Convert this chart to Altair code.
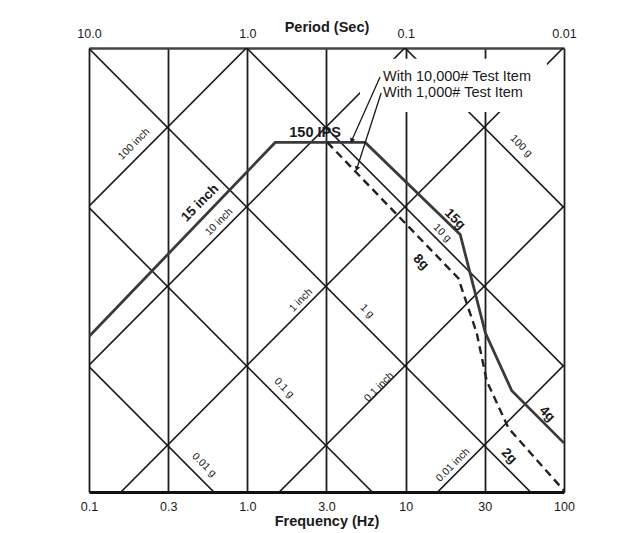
import math
import altair as alt
import pandas as pd

# ---- axis ticks ----
freq_ticks = [0.1, 0.3162, 1.0, 3.162, 10.0, 31.62, 100.0]
freq_tick_labels = ["0.1", "0.3", "1.0", "3.0", "10", "30", "100"]
period_ticks = [0.1, 1.0, 10.0, 100.0]
period_tick_labels = ["10.0", "1.0", "0.1", "0.01"]
vel_ticks = [1, 10, 100]
vel_tick_labels = ["1", "10", "100"]

# ---- tripartite grid values ----
disp_inch = [0.01, 0.1, 1, 10, 100]
accel_g = [0.01, 0.1, 1, 10, 100]
G_IN = 386.1

# ---- spectra ----
solid_f = [0.1, 1.50, 5.55, 22.1, 31.9, 46.8, 100]
solid_v = [9.5, 158, 158, 41.7, 10.0, 4.33, 2.03]
dashed_f = [3.2, 21.5, 28.1, 32.5, 44.6, 100]
dashed_v = [158, 22.1, 10.0, 5.0, 2.52, 1.02]

# ---- labels ----
disp_lab_text = ["100 inch", "10 inch", "1 inch", "0.1 inch", "0.01 inch"]
disp_lab_f = [0.1925, 0.663, 2.18, 6.79, 19.9]
disp_lab_v = [154.4, 49.9, 16.1, 4.57, 1.479]
acc_lab_text = ["100 g", "10 g", "1 g", "0.1 g", "0.01 g"]
acc_lab_f = [53.6, 17.0, 5.70, 1.705, 0.533]
acc_lab_v = [150, 42.6, 13.75, 4.51, 1.479]
curve_up_text = ["15 inch"]
curve_up_f = [0.5027]
curve_up_v = [65.7]
curve_dn_text = ["15g", "8g", "4g", "2g"]
curve_dn_f = [20.5, 12.5, 78.2, 45.0]
curve_dn_v = [52.1, 27.96, 3.10, 1.684]
ips_text = ["150 IPS"]
ips_f = [2.677]
ips_v = [181]
note_text = ["With 10,000# Test Item", "With 1,000# Test Item"]
note_f = [7.19, 7.19]
note_v = [407.6, 323]
arrow_f0 = [6.89, 7.0]
arrow_v0 = [407, 323]
arrow_f1 = [4.58, 4.93]
arrow_v1 = [163.7, 109]
arrow_angle = [204, 198]
box_f = [5.15, 78]
box_v = [245, 530]

# ---- build tables ----
rows = []
for d in disp_inch:
    for f in (0.1, 100.0):
        rows.append({"id": f"d{d}", "f": f, "v": 2 * math.pi * f * d})
for a in accel_g:
    for f in (0.1, 100.0):
        rows.append({"id": f"a{a}", "f": f, "v": G_IN * a / (2 * math.pi * f)})
diag_df = pd.DataFrame(rows)

solid_df = pd.DataFrame({"f": solid_f, "v": solid_v})
dashed_df = pd.DataFrame({"f": dashed_f, "v": dashed_v})
arrow_rows = []
for i in range(len(arrow_f0)):
    arrow_rows.append({"id": i, "o": 0, "f": arrow_f0[i], "v": arrow_v0[i]})
    arrow_rows.append({"id": i, "o": 1, "f": arrow_f1[i], "v": arrow_v1[i]})
arrow_df = pd.DataFrame(arrow_rows)
head_df = pd.DataFrame({"f": arrow_f1, "v": arrow_v1, "ang": arrow_angle})
box_df = pd.DataFrame({"f": [box_f[0]], "f2": [box_f[1]], "v": [box_v[0]], "v2": [box_v[1]]})
top_df = pd.DataFrame({"f": period_ticks, "v": [1] * len(period_ticks)})


def label_expr(ticks, labels):
    expr = f"'{labels[-1]}'"
    for i in range(len(ticks) - 2, -1, -1):
        mid = math.sqrt(ticks[i] * ticks[i + 1])
        expr = f"datum.value < {mid} ? '{labels[i]}' : ({expr})"
    return expr


FONT = "Liberation Sans"
INK = "#1a1a1a"
xs = alt.Scale(type="log", domain=[0.1, 100], nice=False)
ys = alt.Scale(type="log", domain=[1, 620], nice=False)

x_bottom = alt.Axis(
    orient="bottom", values=freq_ticks, labelExpr=label_expr(freq_ticks, freq_tick_labels),
    title="Frequency (Hz)", grid=True, gridColor="#1e1e1e", gridWidth=1.8, ticks=False,
    domainColor="#111", domainWidth=3, labelFontSize=12.5, labelPadding=8, labelColor=INK,
    labelOverlap=False, labelFlush=False, titleFontSize=14.5, titleFontWeight="bold",
    titleColor=INK, titleY=29, titleBaseline="middle", labelFont=FONT, titleFont=FONT,
)
x_top = alt.Axis(
    orient="top", values=period_ticks, labelExpr=label_expr(period_ticks, period_tick_labels),
    title="Period (Sec)", grid=False, ticks=False, domainColor="#444", domainWidth=2.5,
    labelFontSize=12.5, labelPadding=8, labelColor=INK, labelOverlap=False, labelFlush=False,
    titleFontSize=14.5, titleFontWeight="bold", titleColor=INK, titleY=-21,
    titleBaseline="middle", labelFont=FONT, titleFont=FONT,
)
y_left = alt.Axis(
    values=vel_ticks, labelExpr=label_expr(vel_ticks, vel_tick_labels),
    title="Velocity (IPS)", grid=True, gridColor="#777", gridWidth=1.6, ticks=False,
    domainColor="#111", domainWidth=3, labelFontSize=11.5, labelPadding=4, labelColor=INK,
    labelOverlap=False, labelFlush=False, titleFontSize=14.5, titleFontWeight="bold",
    titleColor=INK, titleX=-29, titleBaseline="middle", labelFont=FONT, titleFont=FONT,
)


def X(axis=None):
    return alt.X("f:Q", scale=xs, axis=axis)


def Y(axis=None):
    return alt.Y("v:Q", scale=ys, axis=axis)


diag = alt.Chart(diag_df).mark_line(clip=True, color=INK, strokeWidth=1.6).encode(
    x=X(x_bottom), y=Y(y_left), detail="id:N")
top_axis = alt.Chart(top_df).mark_point(opacity=0).encode(x=X(x_top), y=Y())
box = alt.Chart(box_df).mark_rect(fill="white").encode(
    x=X(), x2="f2:Q", y=Y(), y2="v2:Q")
solid = alt.Chart(solid_df).mark_line(clip=True, color="#3a3a3a", strokeWidth=2.8).encode(
    x=X(), y=Y(), order=alt.Order("f:Q"))
dashed = alt.Chart(dashed_df).mark_line(clip=True, color="#222", strokeWidth=2.4,
                                        strokeDash=[8, 5]).encode(
    x=X(), y=Y(), order=alt.Order("f:Q"))
arrows = alt.Chart(arrow_df).mark_line(color=INK, strokeWidth=1.3).encode(
    x=X(), y=Y(), detail="id:N", order="o:Q")
heads = alt.Chart(head_df).mark_point(shape="triangle", filled=True, color=INK, size=30,
                                      opacity=1).encode(
    x=X(), y=Y(), angle=alt.Angle("ang:Q", scale=None))


def text_layer(texts, fs, vs, angle, size, weight="normal", align="center"):
    df = pd.DataFrame({"t": texts, "f": fs, "v": vs})
    return alt.Chart(df).mark_text(angle=angle, fontSize=size, fontWeight=weight, font=FONT,
                                   color=INK, align=align, baseline="middle").encode(
        x=X(), y=Y(), text="t:N")


t_disp = text_layer(disp_lab_text, disp_lab_f, disp_lab_v, 315, 10.5)
t_acc = text_layer(acc_lab_text, acc_lab_f, acc_lab_v, 45, 10.5)
t_up = text_layer(curve_up_text, curve_up_f, curve_up_v, 315, 13.5, "bold")
t_dn = text_layer(curve_dn_text, curve_dn_f, curve_dn_v, 45, 13.5, "bold")
t_ips = text_layer(ips_text, ips_f, ips_v, 0, 14.5, "bold")
t_note = text_layer(note_text, note_f, note_v, 0, 14.5, "normal", "left")

chart = alt.layer(
    diag, top_axis, box, solid, dashed, arrows, heads,
    t_disp, t_acc, t_up, t_dn, t_ips, t_note,
).resolve_axis(x="independent").properties(
    width=475, height=444,
    autosize=alt.AutoSizeParams(type="none"),
    padding={"left": 81, "top": 40, "right": 40, "bottom": 42},
).configure_view(stroke="#222", strokeWidth=2).configure(font=FONT)

chart.save("out.html", embed_options={"renderer": "svg", "actions": False})
